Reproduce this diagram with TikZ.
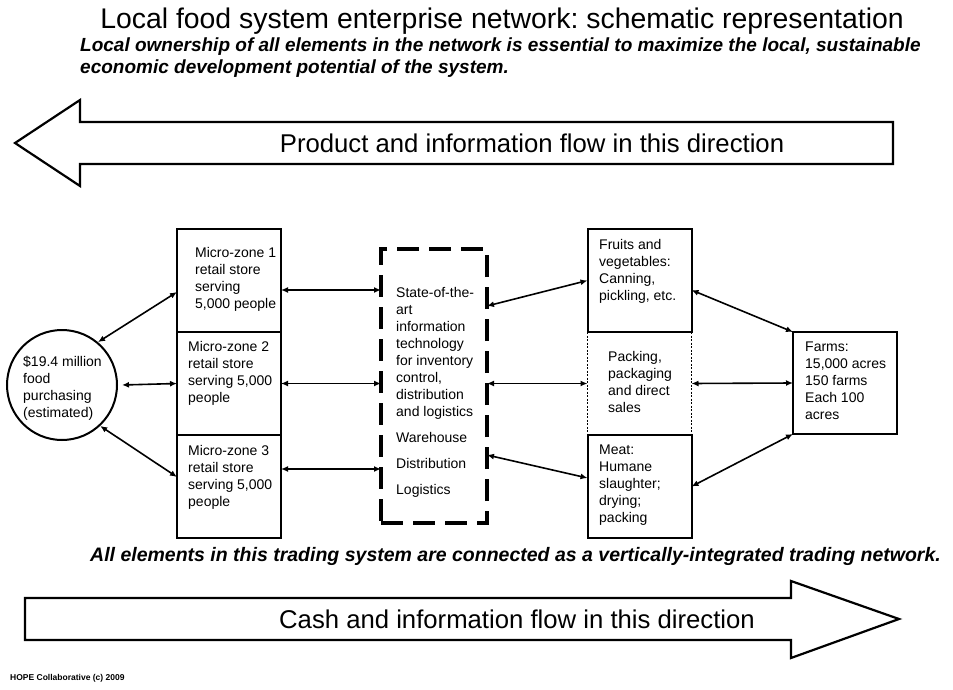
\documentclass[tikz,border=0pt]{standalone}
\usepackage{fontspec}
\setmainfont{Liberation Sans}
\usetikzlibrary{arrows.meta, positioning}
\frenchspacing

\begin{document}
\begin{tikzpicture}[
        x=1pt, y=-1pt,
        zone/.style={rectangle, draw, line width=2pt, minimum width=104pt, minimum height=103pt, outer sep=0pt},
        body/.style={inner sep=0pt, anchor=north west, align=left, font=\fontsize{14}{17}\selectfont},
        link/.style={{Latex[length=7pt,width=6pt]}-{Latex[length=7pt,width=6pt]}, line width=1.6pt},
        flow/.style={line width=2.2pt, line join=miter},
        banner/.style={font=\fontsize{25.7}{28}\selectfont},
        motto/.style={font=\bfseries\itshape\fontsize{19}{22}\selectfont, inner sep=0pt},
    ]
        \useasboundingbox (0,0) rectangle (953,690);

        % Headings
        \node[font=\fontsize{28.4}{30}\selectfont, anchor=base] (title) at (502,29) {Local food system enterprise network: schematic representation};
        \node[motto, align=left, anchor=north west] (claim) at (80,38)
            {Local ownership of all elements in the network is essential to maximize the local, sustainable\\economic development potential of the system.};

        % Product flow (leftwards)
        \draw[flow] (893,122) -- (80,122) -- (80,100) -- (15,143) -- (80,186) -- (80,164) -- (893,164) -- cycle;
        \node[banner] (product) at (532,143) {Product and information flow in this direction};

        % Consumers
        \node[circle, draw, line width=2pt, minimum size=110pt] (spend) at (62,385) {};
        \node[body] (spendtxt) at (23,356) {\$19.4 million\\food\\purchasing\\(estimated)};

        % Micro-zone stores
        \node[zone] (mz1) at (229,280.5) {};
        \node[zone, below=0pt of mz1] (mz2) {};
        \node[zone, below=0pt of mz2] (mz3) {};
        \node[body] (mz1txt) at (195,247) {Micro-zone 1\\retail store\\serving\\5,000 people};
        \node[body] (mz2txt) at (188,341) {Micro-zone 2\\retail store\\serving 5,000\\people};
        \node[body] (mz3txt) at (188,445) {Micro-zone 3\\retail store\\serving 5,000\\people};

        % Information technology hub
        \node[rectangle, draw, line width=4.5pt, dash pattern=on 22pt off 10pt, minimum width=106pt, minimum height=274pt, outer sep=0pt] (hub) at (434,386) {};
        \node[body] (hubtxt) at (396,287) {State-of-the-\\art\\information\\technology\\for inventory\\control,\\distribution\\and logistics\\[9pt]Warehouse\\[9pt]Distribution\\[9pt]Logistics};

        % Processing
        \node[zone] (veg) at (639.5,280.5) {};
        \node[zone, draw=none, below=0pt of veg] (pack) {};
        \node[zone, below=0pt of pack] (meat) {};
        \draw[line width=1.3pt, dash pattern=on 2pt off 1.5pt] (pack.north west) -- (pack.south west);
        \draw[line width=1.3pt, dash pattern=on 2pt off 1.5pt] (pack.north east) -- (pack.south east);
        \node[body] (vegtxt) at (599,239) {Fruits and\\vegetables:\\Canning,\\pickling, etc.};
        \node[body] (packtxt) at (608,351) {Packing,\\packaging\\and direct\\sales};
        \node[body] (meattxt) at (599,445) {Meat:\\Humane\\slaughter;\\drying;\\packing};

        % Farms
        \node[zone, minimum height=102pt] (farms) at (845,383) {};
        \node[body] (farmstxt) at (805,342) {Farms:\\15,000 acres\\150 farms\\Each 100\\acres};

        % Links
        \coordinate (m1) at ([yshift=-9.5pt]mz1.east);
        \coordinate (m3) at ([yshift=17.5pt]mz3.east);
        \draw[link] (spend.50) -- ([yshift=-11.5pt]mz1.west);
        \draw[link] ([xshift=4pt]spend.east) -- (mz2.west);
        \draw[link] (spend.-47) -- ([yshift=9.5pt]mz3.west);
        \draw[link] (m1) -- (m1 -| hub.west);
        \draw[link] (mz2.east) -- (mz2.east -| hub.west);
        \draw[link] (m3) -- (m3 -| hub.west);
        \draw[link] ([yshift=80pt]hub.east) -- (veg.west);
        \draw[link] (pack.west -| hub.east) -- (pack.west);
        \draw[link] ([yshift=-69pt]hub.east) -- ([yshift=8.5pt]meat.west);
        \draw[link] ([yshift=-9.5pt]veg.east) -- (farms.north west);
        \draw[link] (pack.east) -- (farms.west);
        \draw[link] (meat.east) -- (farms.south west);

        % Cash flow (rightwards)
        \node[motto, font=\bfseries\itshape\fontsize{19.5}{22}\selectfont, anchor=base west] (trade) at (90,561)
            {All elements in this trading system are connected as a vertically-integrated trading network.};
        \draw[flow] (25,598) -- (791,598) -- (791,581) -- (899,619) -- (791,658) -- (791,640) -- (25,640) -- cycle;
        \node[banner] (cash) at (517,619) {Cash and information flow in this direction};

        \node[font=\bfseries\fontsize{8.5}{10}\selectfont, anchor=base west, inner sep=0pt] (credit) at (10,680) {HOPE Collaborative (c) 2009};
    \end{tikzpicture}
\end{document}
